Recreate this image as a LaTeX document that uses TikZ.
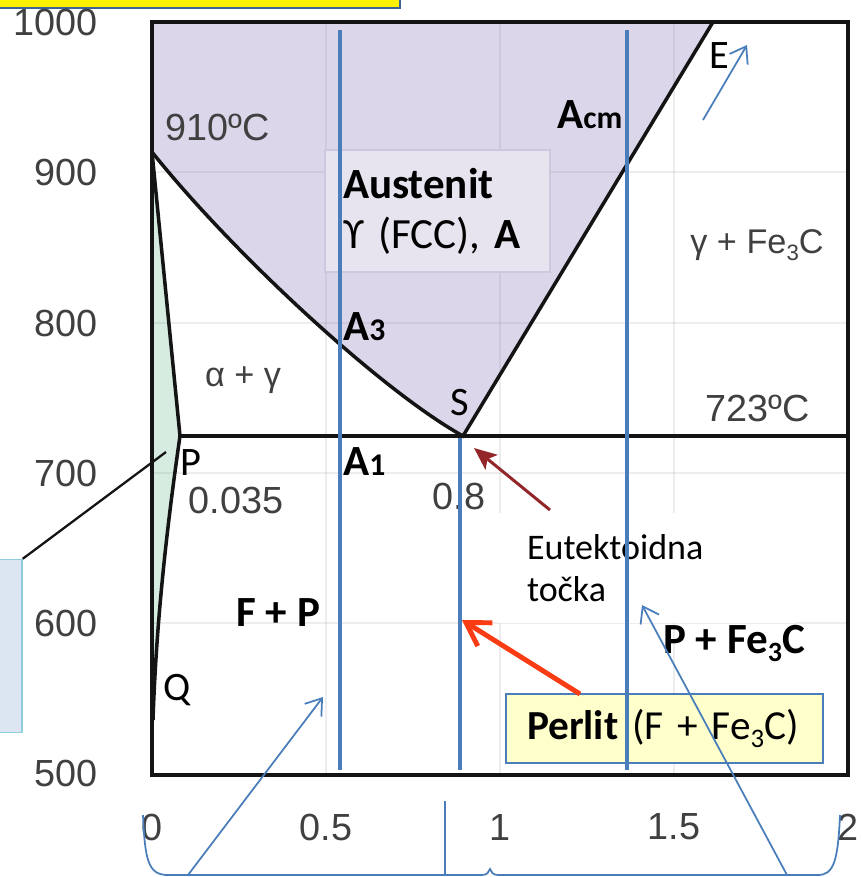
\documentclass[tikz,border=0pt]{standalone}
\usepackage{fontspec}
\usepackage{graphicx}
\setmainfont{Carlito}
\newfontfamily\plotfont{Liberation Sans}
\usetikzlibrary{arrows.meta}
\definecolor{ink}{gray}{0.08}
\definecolor{axgray}{gray}{0.25}
\definecolor{austfill}{RGB}{220,214,234}
\definecolor{austbox}{RGB}{231,227,239}
\definecolor{austedge}{RGB}{206,199,222}
\definecolor{ferfill}{RGB}{214,236,224}
\definecolor{steel}{RGB}{74,126,187}
\definecolor{redhot}{RGB}{250,60,20}
\definecolor{darkred}{RGB}{146,38,40}
\definecolor{paleyel}{RGB}{255,255,204}
\definecolor{paleblue}{RGB}{220,230,242}
\definecolor{cyanedge}{RGB}{146,205,222}
\newcommand{\chemsub}[1]{\raisebox{-0.4ex}{\scalebox{0.65}{#1}}}
\tikzset{
  frame/.style={draw=ink, line width=2.6pt},
  phase/.style={draw=ink, line width=2pt},
  gridline/.style={draw=gray, opacity=0.14, line width=0.8pt},
  alloy/.style={draw=steel, line width=1.8pt},
  pointer/.style={draw=steel, line width=1pt, -{Straight Barb[length=3mm, width=4.2mm]}},
  tick/.style={font=\plotfont\fontsize{21.5}{24}\selectfont, text=axgray, inner sep=0pt},
  region/.style={font=\plotfont\fontsize{21.5}{24}\selectfont, text=axgray, inner sep=0pt},
  phasetxt/.style={font=\plotfont\fontsize{19.5}{22}\selectfont, text=axgray, inner sep=0pt},
  crit/.style={font=\fontsize{24.5}{28}\selectfont\bfseries, inner sep=0pt, anchor=base west},
  pname/.style={font=\fontsize{23}{26}\selectfont, inner sep=0pt, anchor=base west},
}
\begin{document}
\begin{tikzpicture}[x=0.02cm, y=-0.02cm]
  \useasboundingbox (0,0) rectangle (862,877);
  \clip (0,0) rectangle (862,877);
  \coordinate (tl) at (152,22); \coordinate (br) at (848,775);
  \coordinate (G) at (152,152);
  \coordinate (P) at (180,436);
  \coordinate (S) at (463,436);
  \coordinate (Etop) at (713,22);
  \coordinate (Q) at (153,720);
  \coordinate (R) at (848,436);

  % phase fields
  \fill[austfill] (tl) -- (Etop) -- (S) .. controls (380,390) and (230,250) .. (G) -- cycle;
  \fill[ferfill] (G) -- (P) .. controls (165,540) and (156,630) .. (Q) -- cycle;
  \foreach \gx in {326,500,674} \draw[gridline] (\gx,22) -- (\gx,775);
  \foreach \gy in {172,323,473,623} \draw[gridline] (152,\gy) -- (848,\gy);

  % boxes
  \node[fill=austbox, draw=austedge, line width=0.6pt, text width=3.78cm, inner xsep=0.36cm,
        minimum height=2.44cm, align=left, font=\fontsize{24.5}{28.5}\selectfont] (aust) at (437.5,211)
        {\textbf{Austenit}\\ϒ (FCC), \textbf{A}};
  \node[fill=white, text width=4.78cm, inner xsep=0.58cm, minimum height=2.2cm, align=left,
        font=\fontsize{20.5}{24}\selectfont] (eut) at (646.5,568) {Eutektoidna\\točka};
  \node[fill=paleyel, draw=steel, line width=0.8pt, text width=5.5cm, inner xsep=0.42cm,
        minimum height=1.38cm, align=left, font=\fontsize{23.5}{26}\selectfont] (perlit) at (664.5,728.5)
        {\textbf{Perlit} (F + Fe\chemsub{3}C)};
  \node[fill=paleblue, draw=cyanedge, line width=0.8pt, minimum width=1.2cm, minimum height=3.46cm,
        inner sep=0pt] (side) at (-8,646) {};
  \node[fill=yellow, draw=steel!80!black, line width=0.8pt, minimum width=8.3cm, minimum height=0.8cm,
        inner sep=0pt] (title) at (192.5,-12) {};

  % phase lines
  \draw[phase] (G) .. controls (230,250) and (380,390) .. (S) -- (Etop);
  \draw[phase] (G) -- (P) .. controls (165,540) and (156,630) .. (Q);
  \draw[phase] (P) -- (R);
  \draw[frame] (tl) rectangle (br);
  \coordinate (pnote) at (166,452);
  \draw[ink, line width=1.3pt] (pnote) -- (side.north east);

  % axes
  \foreach \t/\py [count=\i] in {1000/22,900/172,800/323,700/473,600/623,500/773}
    \node[tick, anchor=east] (y\i) at (98,\py) {\t};
  \foreach \t/\px [count=\i] in {0/152,0.5/326,1/500,1.5/674,2/848}
    \node[tick] (x\i) at (\px,827) {\t};

  \node[region] (t910) at (218,127) {910ºC};
  \node[region] (t723) at (758,408) {723ºC};
  \node[phasetxt] (ag) at (243,380) {α + γ};
  \node[phasetxt] (gfe) at (757,245) {γ + Fe\chemsub{3}C};
  \node[region] (c035) at (236,500) {0.035};
  \node[region] (c08) at (459,496) {0.8};

  \node[crit] (acm) at (557,128) {A{\fontsize{18}{20}\selectfont cm}};
  \node[crit] (a3) at (343,340) {A{\fontsize{18}{20}\selectfont 3}};
  \node[crit] (a1) at (343,475) {A{\fontsize{18}{20}\selectfont 1}};
  \node[crit] (fp) at (236,626) {F + P};
  \node[crit] (pfe) at (663,653) {P + Fe\chemsub{3}C};

  \node[pname] (lE) at (709,68) {E};
  \node[pname] (lS) at (450,415) {S};
  \node[pname] (lP) at (180,475) {P};
  \node[pname] (lQ) at (163,700) {Q};

  % alloy verticals
  \draw[alloy, line width=2.4pt] (340,30) -- (340,770);
  \coordinate (s08) at (460,438);
  \draw[alloy] (s08) -- (460,770);
  \draw[alloy] (627,30) -- (627,770);

  % pointers
  \coordinate (etail) at (703,120); \coordinate (ehead) at (747,45);
  \draw[pointer] (etail) -- (ehead);
  \coordinate (rtail) at (580,694); \coordinate (rhead) at (462,620);
  \draw[draw=redhot, line width=2.8pt, -{Straight Barb[length=4.5mm, width=5.5mm]}] (rtail) -- (rhead);
  \coordinate (dtail) at (550,510); \coordinate (shead) at (474,448);
  \draw[draw=darkred, line width=1.7pt, -{Stealth[length=4.5mm, width=3.8mm, inset=1mm]}] (dtail) -- (shead);

  \draw[steel, line width=1pt] (143,815) .. controls (145,860) and (148,875) .. (168,875) -- (482,875)
    .. controls (487,875) and (489,872) .. (490,869) .. controls (491,872) and (493,875) .. (498,875)
    -- (818,875) .. controls (834,875) and (838,860) .. (840,815);
  \draw[steel, line width=1pt] (445,801) -- (445,875);
  \coordinate (bl) at (188,875); \coordinate (fphead) at (323,697);
  \coordinate (brr) at (787,875); \coordinate (pfhead) at (642,605);
  \draw[pointer] (bl) -- (fphead);
  \draw[pointer] (brr) -- (pfhead);
\end{tikzpicture}
\end{document}
